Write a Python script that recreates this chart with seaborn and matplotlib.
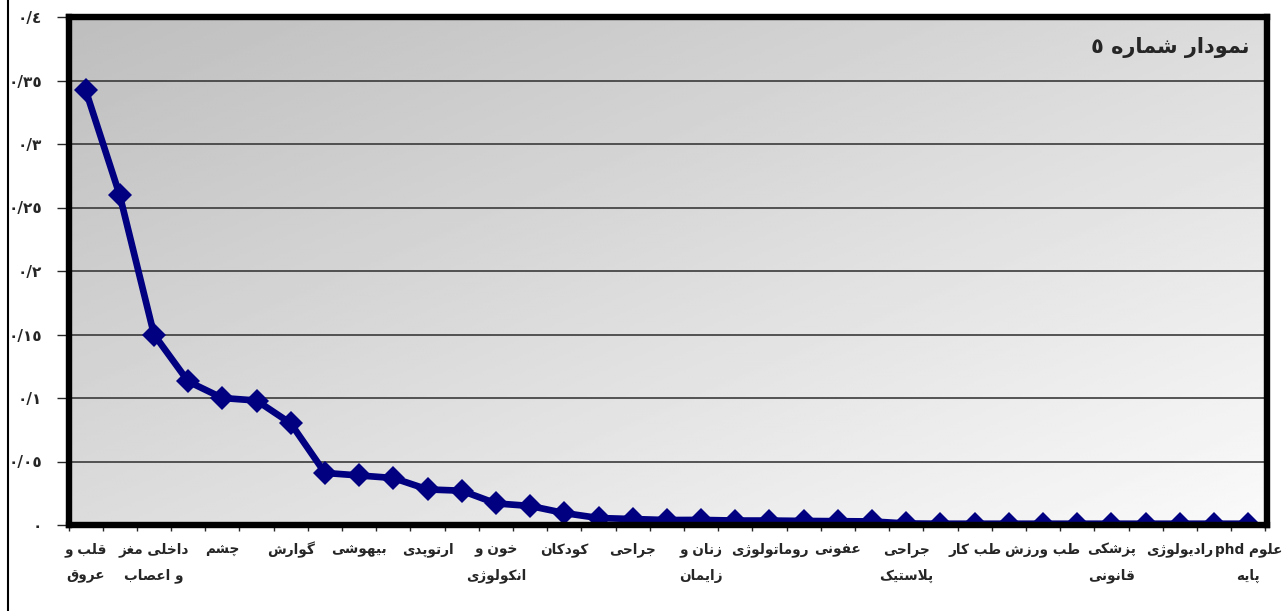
import numpy as np
import pandas as pd
import matplotlib
matplotlib.use('Agg')
import matplotlib.pyplot as plt
from matplotlib.lines import Line2D
import seaborn as sns

# ---------------------------------------------------------------- data
values = [0.3425, 0.2595, 0.150, 0.113, 0.100, 0.098, 0.080, 0.041, 0.039, 0.037,
          0.028, 0.027, 0.017, 0.015, 0.0094, 0.0055, 0.0047, 0.0039, 0.0040, 0.0035,
          0.0035, 0.0032, 0.0030, 0.0028, 0.0012, 0.0010, 0.0010, 0.0010, 0.0010, 0.0010,
          0.0010, 0.0010, 0.0010, 0.0010, 0.0010]

# every second category is labelled (first line, second line)
shown_labels = [
    ('قلب و', 'عروق'), ('داخلی مغز', 'و اعصاب'), ('چشم', ''), ('گوارش', ''),
    ('بیهوشی', ''), ('ارتوپدی', ''), ('خون و', 'انکولوژی'), ('کودکان', ''),
    ('جراحی', ''), ('زنان و', 'زایمان'), ('روماتولوژی', ''), ('عفونی', ''),
    ('جراحی', 'پلاستیک'), ('طب کار', ''), ('طب ورزش', ''), ('پزشکی', 'قانونی'),
    ('رادیولوژی', ''), ('phd|علوم', 'پایه'),
]
ytick_vals = [0, 0.05, 0.1, 0.15, 0.2, 0.25, 0.3, 0.35, 0.4]
ytick_labels = ['٠', '٠/٠٥', '٠/١', '٠/١٥', '٠/٢', '٠/٢٥', '٠/٣', '٠/٣٥', '٠/٤']
title = 'نمودار شماره ٥'

# ---------------------------------------------------------------- persian shaping
# (isolated, final, initial, medial) or (isolated, final) for right-joining letters
FORMS = {
    'ا': ('\uFE8D', '\uFE8E'), 'ب': ('\uFE8F', '\uFE90', '\uFE91', '\uFE92'),
    'ت': ('\uFE95', '\uFE96', '\uFE97', '\uFE98'), 'ج': ('\uFE9D', '\uFE9E', '\uFE9F', '\uFEA0'),
    'ح': ('\uFEA1', '\uFEA2', '\uFEA3', '\uFEA4'), 'خ': ('\uFEA5', '\uFEA6', '\uFEA7', '\uFEA8'),
    'د': ('\uFEA9', '\uFEAA'), 'ر': ('\uFEAD', '\uFEAE'), 'ز': ('\uFEAF', '\uFEB0'),
    'س': ('\uFEB1', '\uFEB2', '\uFEB3', '\uFEB4'), 'ش': ('\uFEB5', '\uFEB6', '\uFEB7', '\uFEB8'),
    'ص': ('\uFEB9', '\uFEBA', '\uFEBB', '\uFEBC'), 'ط': ('\uFEC1', '\uFEC2', '\uFEC3', '\uFEC4'),
    'ع': ('\uFEC9', '\uFECA', '\uFECB', '\uFECC'), 'غ': ('\uFECD', '\uFECE', '\uFECF', '\uFED0'),
    'ف': ('\uFED1', '\uFED2', '\uFED3', '\uFED4'), 'ق': ('\uFED5', '\uFED6', '\uFED7', '\uFED8'),
    'ل': ('\uFEDD', '\uFEDE', '\uFEDF', '\uFEE0'), 'م': ('\uFEE1', '\uFEE2', '\uFEE3', '\uFEE4'),
    'ن': ('\uFEE5', '\uFEE6', '\uFEE7', '\uFEE8'), 'ه': ('\uFEE9', '\uFEEA', '\uFEEB', '\uFEEC'),
    'و': ('\uFEED', '\uFEEE'), 'ی': ('\uFBFC', '\uFBFD', '\uFBFE', '\uFBFF'),
    'پ': ('\uFB56', '\uFB57', '\uFB58', '\uFB59'), 'چ': ('\uFB7A', '\uFB7B', '\uFB7C', '\uFB7D'),
    'ژ': ('\uFB8A', '\uFB8B'), 'ک': ('\uFB8E', '\uFB8F', '\uFB90', '\uFB91'),
    'گ': ('\uFB92', '\uFB93', '\uFB94', '\uFB95'),
}


def fa(text):
    """Shape persian letters and put them in visual (left-to-right) order."""
    out = []
    i, n = 0, len(text)
    while i < n:
        c = text[i]
        if c not in FORMS:
            out.append(c); i += 1; continue
        prev = text[i - 1] if i > 0 else None
        jp = prev in FORMS and len(FORMS[prev]) == 4
        nxt = text[i + 1] if i + 1 < n else None
        if c == 'ل' and nxt == 'ا':
            out.append('\uFEFC' if jp else '\uFEFB'); i += 2; continue
        f = FORMS[c]
        jn = len(f) == 4 and nxt in FORMS
        if jp and jn:
            out.append(f[3])
        elif jp:
            out.append(f[1])
        elif jn:
            out.append(f[2])
        else:
            out.append(f[0])
        i += 1
    return ''.join(reversed(out))


def fa_line(s):
    if '|' in s:
        ltr, rtl = s.split('|')
        return ltr + ' ' + fa(rtl)
    return fa(s)


# ---------------------------------------------------------------- plot
sns.set_style('white')
plt.rcParams['font.family'] = ['DejaVu Sans']

df = pd.DataFrame({'pos': np.arange(len(values)), 'value': values})

fig = plt.figure(figsize=(12.82, 6.11), dpi=100)
ax = fig.add_axes([68.5 / 1282, 1 - 525 / 611, (1267 - 68.5) / 1282, (525 - 17) / 611])

# diagonal grey gradient background
gx, gy = np.meshgrid(np.linspace(0, 1, 300), np.linspace(0, 1, 200))
grad = 0.745 + 0.235 * (gx + gy) / 2
ax.imshow(grad, cmap='gray', vmin=0, vmax=1, extent=[0, 1, 0, 1],
          transform=ax.transAxes, aspect='auto', zorder=0, origin='upper')

for yv in ytick_vals[1:-1]:
    ax.axhline(yv, color='#3a3a3a', lw=1.2, zorder=1)

sns.lineplot(data=df, x='pos', y='value', ax=ax, color='#000080', lw=4.8,
             marker='D', markersize=12.5, markeredgewidth=0, zorder=3)

ax.set_xlim(-0.5, len(values) - 0.45)
ax.set_ylim(0, 0.4)
ax.set_xlabel(''); ax.set_ylabel('')

ax.set_yticks(ytick_vals)
ax.set_yticklabels(ytick_labels, fontsize=11, fontweight='bold')
ax.tick_params(axis='y', direction='out', length=9, width=1, pad=10, left=True)

ax.set_xticks(range(0, len(values), 2))
ax.set_xticklabels(['' for _ in shown_labels])
ax.set_xticks(np.arange(-0.5, len(values), 1), minor=True)
ax.tick_params(axis='x', which='major', length=0)
ax.tick_params(axis='x', which='minor', direction='out', length=4, width=1, bottom=True)

for k, (l1, l2) in enumerate(shown_labels):
    xpos = 2 * k
    ax.text(xpos, -0.049, fa_line(l1), transform=ax.get_xaxis_transform(),
            ha='center', va='center', fontsize=9.8, fontweight='bold')
    if l2:
        ax.text(xpos, -0.1, fa_line(l2), transform=ax.get_xaxis_transform(),
                ha='center', va='center', fontsize=9.8, fontweight='bold')

ax.text(0.985, 0.94, fa(title), transform=ax.transAxes, ha='right', va='center',
        fontsize=15, fontweight='bold')

for sp in ax.spines.values():
    sp.set_visible(True)
    sp.set_color('black')
    sp.set_linewidth(4.6)
    sp.set_zorder(4)

fig.add_artist(Line2D([8 / 1282, 8 / 1282], [0, 1], color='black', lw=1.5))

plt.savefig('out.png', dpi=100)
plt.close()
